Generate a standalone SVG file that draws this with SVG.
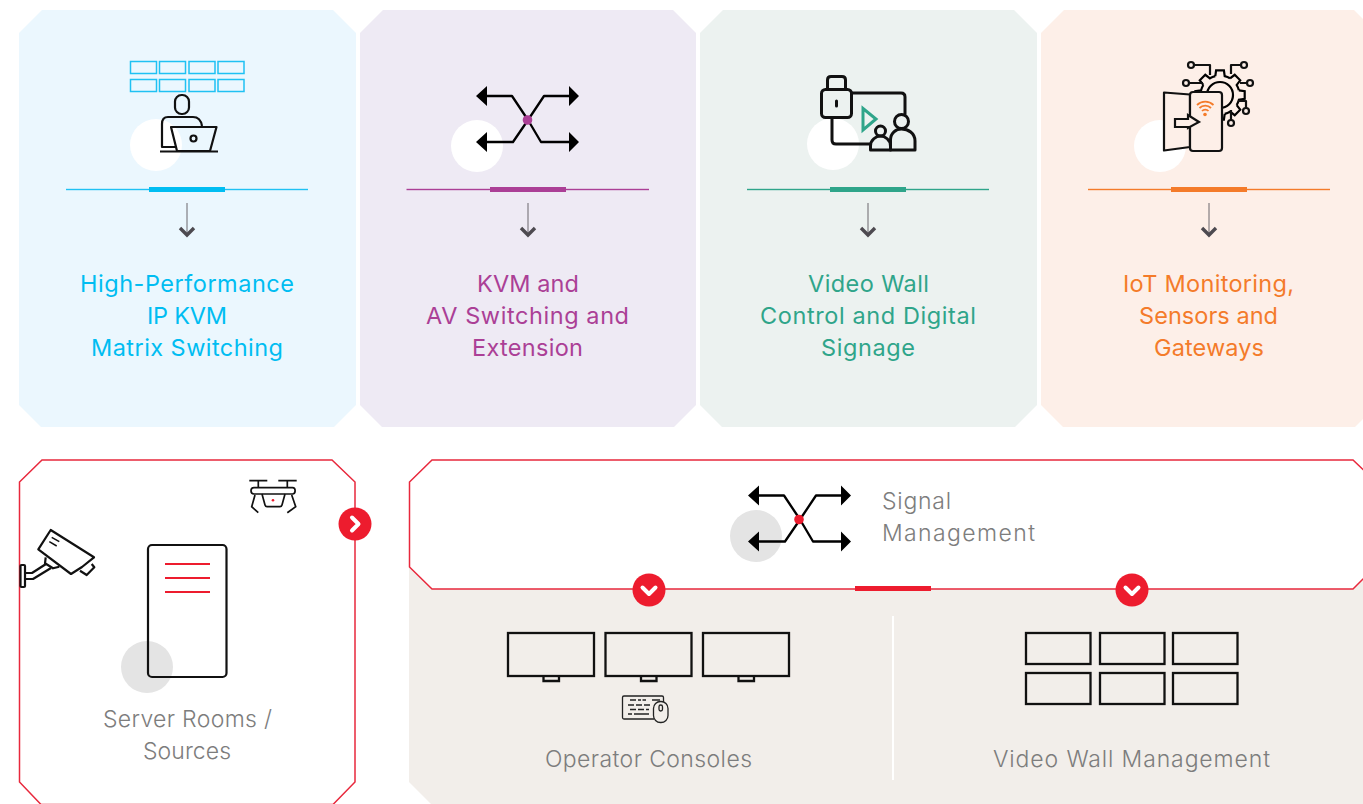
<svg xmlns="http://www.w3.org/2000/svg" width="1363" height="804" viewBox="0 0 1363 804">
<style>
text{font-family:Inter,"Open Sans","Liberation Sans",sans-serif}
.t{font-size:23.5px;font-weight:400}
.g{font-size:23px;font-weight:300;fill:#7d7d7d}
.ink{fill:none;stroke:#000;stroke-width:2.300;stroke-linejoin:round;stroke-linecap:round}
.inkb{fill:none;stroke:#111;stroke-width:2.200;stroke-linejoin:round}
.thick{fill:none;stroke:#111;stroke-width:3;stroke-linejoin:round;stroke-linecap:round}
.dn{fill:none;stroke:#6a676d;stroke-width:1}
.ch{fill:none;stroke:#4d4a50;stroke-width:3.400}
.w{fill:#fff}
.r{fill:#ed1c2e}
.rl{stroke:#e8283c;stroke-width:1.500}
.wc{fill:none;stroke:#fff;stroke-width:4;stroke-linecap:round;stroke-linejoin:round}
</style>
<defs>
<g id="down"><path class="dn" d="M0 203V235"/><path class="ch" d="M-7 228L0 235L7 228"/></g>
<g id="sw">
<path class="ink" d="M11 0H36L52 24M93 0H68L52 24L37 46H11M93 46H65L52 24"/>
<path d="M0 0L11-10V10ZM103 0L93-10V10ZM0 46L11 36V56ZM103 46L93 36V56Z" fill="#000"/>
</g>
<path id="tooth" d="M18.900-4.700L24.700-3.900V3.900L18.900 4.700A19.500 19.500 0 0 1 16.700 10" fill="none" stroke="#000" stroke-width="2.200"/>
</defs>
<g id="panel-ip-kvm">
<path d="M42 10H333L356 33V405L334 427H41L19 405V33Z" fill="#ebf7fe"/>
<circle class="w" cx="156" cy="145" r="26"/>
<g fill="none" stroke="#1fc1f3" stroke-width="1.500">
<rect x="130.500" y="61.500" width="26" height="12"/><rect x="159.500" y="61.500" width="26" height="12"/><rect x="189" y="61.500" width="26" height="12"/><rect x="218" y="61.500" width="26" height="12"/>
<rect x="130.500" y="79.500" width="26" height="12"/><rect x="159.500" y="79.500" width="26" height="12"/><rect x="189" y="79.500" width="26" height="12"/><rect x="218" y="79.500" width="26" height="12"/>
</g>
<rect class="inkb" x="175" y="95" width="14" height="19" rx="6.500"/>
<path class="inkb" d="M202 126C201 120 198 117 193 117H168C164 117 162 120 162 124V147H176"/>
<path class="inkb" d="M171 127H216.500L210 151H177Z"/>
<circle class="inkb" cx="193.500" cy="138.500" r="3"/>
<path class="inkb" d="M160 151.500H218"/>
<rect x="66" y="188.800" width="242" height="1.400" fill="#1fc1f3"/>
<rect x="149" y="187" width="76" height="5" fill="#00bdf2"/>
<use href="#down" x="187"/>
<g fill="#00bdf2" class="t"><text x="80" y="292" textLength="214">High-Performance</text><text x="147" y="324" textLength="80">IP KVM</text><text x="91" y="356" textLength="192">Matrix Switching</text></g>
</g>
<g id="panel-kvm-av">
<path d="M383 10H673L696 33V405L674 427H382L360 405V33Z" fill="#eeeaf4"/>
<circle class="w" cx="477" cy="146" r="26"/>
<use href="#sw" x="476" y="96"/>
<circle cx="527.500" cy="120" r="4.800" fill="#ab3f96"/>
<rect x="406.500" y="188.800" width="242.500" height="1.400" fill="#ab3f96"/>
<rect x="490" y="187" width="76" height="5" fill="#ab3f96"/>
<use href="#down" x="528"/>
<g fill="#ab3f96" class="t"><text x="477" y="292" textLength="102">KVM and</text><text x="426" y="324" textLength="203">AV Switching and</text><text x="472" y="356" textLength="111">Extension</text></g>
</g>
<g id="panel-video-wall">
<path d="M723 10H1014L1037 33V405L1015 427H722L700 405V33Z" fill="#ecf2f0"/>
<circle class="w" cx="833" cy="144" r="26"/>
<path class="thick" d="M852 93H901Q905 93 905 97V114M832 117V140Q832 144 836 144H870"/>
<rect x="821.500" y="89.500" width="30" height="28" rx="4" class="thick" style="fill:#ecf2f0"/>
<path class="thick" d="M827.500 89V80Q827.500 76.500 831 76.500H842Q845.500 76.500 845.500 80V89"/>
<path class="thick" d="M836.500 101V106"/>
<path d="M863 108.500L876 119L863 130Z" fill="none" stroke="#2fa58a" stroke-width="3"/>
<circle class="thick" cx="901.500" cy="121.500" r="7"/>
<path class="thick" d="M890.500 150V140C890.500 133 896 129 901.500 129C908 129 915 133 915 141V150Z"/>
<circle class="thick" cx="880.500" cy="131" r="5"/>
<path class="thick" d="M870.500 150V146C870.500 140 876 136 880.500 136C885 136 890.500 140 890.500 146V150Z"/>
<rect x="747" y="188.800" width="242" height="1.400" fill="#2fa58a"/>
<rect x="830" y="187" width="76" height="5" fill="#2fa58a"/>
<use href="#down" x="868"/>
<g fill="#2fa58a" class="t"><text x="808" y="292" textLength="121">Video Wall</text><text x="760" y="324" textLength="216">Control and Digital</text><text x="821" y="356" textLength="94">Signage</text></g>
</g>
<g id="panel-iot">
<path d="M1064 10H1354L1377 33V405L1355 427H1063L1041 405V33Z" fill="#fdefe8"/>
<circle class="w" cx="1160" cy="146" r="26"/>
<g transform="translate(1220 95)">
<use href="#tooth"/><use href="#tooth" transform="rotate(45)"/><use href="#tooth" transform="rotate(90)"/><use href="#tooth" transform="rotate(135)"/><use href="#tooth" transform="rotate(180)"/><use href="#tooth" transform="rotate(225)"/><use href="#tooth" transform="rotate(270)"/><use href="#tooth" transform="rotate(315)"/>
<circle r="13" fill="none" stroke="#000" stroke-width="2.200"/>
</g>
<g class="inkb"><circle cx="1191" cy="65" r="3"/><circle cx="1244" cy="65" r="3"/><circle cx="1186" cy="83" r="3"/><circle cx="1250" cy="83" r="3"/><circle cx="1246" cy="111" r="3"/><circle cx="1231" cy="123" r="3"/>
<path d="M1194 65H1210V75M1241 65H1231V74M1189 83H1203M1247 83H1240M1246 108V101H1238M1231 120V110"/></g>
<path d="M1164 92.500L1190 94.500V147L1164 150.500Z" fill="#fdefe8" stroke="#111" stroke-width="2.200" stroke-linejoin="round"/>
<rect x="1190" y="92" width="32" height="59" rx="3" fill="#fdefe8" stroke="#111" stroke-width="2.200"/>
<path d="M1175 119H1188V115L1199 122L1188 128V127H1175Z" fill="#fdefe8" stroke="#111" stroke-width="2.200" stroke-linejoin="miter"/>
<g fill="none" stroke="#f47b2a" stroke-width="1.800"><path d="M1197 105A12 12 0 0 1 1213.500 105"/><path d="M1199.500 108A8 8 0 0 1 1211 108"/><path d="M1202 111A4.500 4.500 0 0 1 1208.500 111"/></g>
<circle cx="1205" cy="114.500" r="1.800" fill="#f47b2a"/>
<rect x="1088" y="188.800" width="242" height="1.400" fill="#f47b2a"/>
<rect x="1171" y="187" width="76" height="5" fill="#f47b2a"/>
<use href="#down" x="1209"/>
<g fill="#f47b2a" class="t"><text x="1123" y="292" textLength="171">IoT Monitoring,</text><text x="1139" y="324" textLength="139">Sensors and</text><text x="1154" y="356" textLength="110">Gateways</text></g>
</g>
<g id="node-server-rooms">
<path class="rl" d="M42 460H332L355 482V782L333 804.500H41L19.500 782V482Z" fill="#fff"/>
<circle cx="147" cy="667" r="26" fill="#e4e4e4"/>
<rect x="148" y="545" width="78.500" height="132" rx="4" fill="none" stroke="#111" stroke-width="2.200"/>
<path d="M165 564H210M165 578H210M165 592H210" stroke="#ed1c2e" stroke-width="1.800"/>
<g class="inkb">
<rect x="20.500" y="565" width="4.500" height="22" rx="1"/>
<path d="M25 573H32L46 564M25 579H33L51 568"/>
<path d="M45.700 557.300L45 563.300L53 568.300L59.300 566.700"/>
<path d="M50.700 530L94 557.300L82 567L71 574L38.300 549.300Z"/>
<path d="M91.700 564L94.300 567.300L86.700 575L80 570.700"/>
<path d="M51.700 537.300L59.300 541.700M49.300 541.700L56.700 546" stroke-width="1.500"/>
</g>
<g fill="none" stroke="#111" stroke-width="1.700">
<path d="M249.300 480.700H267.300M278.300 480.700H296.700M258.300 480.700V488M287.300 480.700V488"/>
<path d="M254 487.700H292.500C296 487.700 296 494 292.500 494H254C250 494 250 487.700 254 487.700Z"/>
<path d="M262 494L265 505Q265.500 506.700 267 506.700H280Q281.500 506.700 282 505L285 494"/>
<path d="M255 495L251.700 506.700L258.300 512.700M291.700 495L295.700 506.700L287.300 512.700"/>
</g>
<circle cx="273" cy="500.300" r="1.300" fill="#ed1c2e"/>
<text class="g" x="103" y="727" textLength="169">Server Rooms /</text>
<text class="g" x="143" y="759" textLength="88">Sources</text>
</g>
<g id="node-consoles-background">
<path d="M409 560H1377V804H431L409 782Z" fill="#f2eeea"/>
<path d="M893 616V780" stroke="#fff" stroke-width="2"/>
</g>
<g id="node-signal-management">
<path class="rl" d="M432 460H1353L1376 482V566L1353 589H432L409.500 567V482Z" fill="#fff"/>
<circle cx="756" cy="536" r="26" fill="#e4e4e4"/>
<use href="#sw" x="748" y="495.500"/>
<circle cx="799" cy="519.500" r="4.800" fill="#ed1c2e"/>
<rect x="855" y="586" width="76" height="5" fill="#ed1c2e"/>
<text class="g" x="882" y="509" textLength="69">Signal</text>
<text class="g" x="882" y="541" textLength="153">Management</text>
</g>
<g id="node-operator-consoles">
<g fill="none" stroke="#111" stroke-width="2.300">
<rect x="508" y="633" width="86" height="43"/><rect x="605.500" y="633" width="86" height="43"/><rect x="703" y="633" width="86" height="43"/>
<path d="M543.500 676V681H559V676M641 676V681H656.500V676M738.500 676V681H754V676"/>
</g>
<g fill="none" stroke="#222" stroke-width="1.300">
<path d="M654 719H624Q622.500 719 622.500 717.500V697.500Q622.500 696 624 696H662Q663.500 696 663.500 697.500V702"/>
<path d="M630 700H636M638 700H641M642.500 700H646M652 700H660M628 705H634M636 705H642M644 705H650M630 709.500H636M638 709.500H644M646 709.500H649M628 714H632M634 714H649"/>
<rect x="653.500" y="701.500" width="14.500" height="21" rx="7" fill="#f2eeea"/>
<rect x="659" y="705" width="3.500" height="6" rx="1.700" fill="#f2eeea"/>
</g>
<text class="g" x="545" y="767" textLength="207">Operator Consoles</text>
</g>
<g id="node-video-wall-management">
<g fill="none" stroke="#111" stroke-width="2.300">
<rect x="1026" y="633" width="64.500" height="31"/><rect x="1100" y="633" width="64.500" height="31"/><rect x="1173" y="633" width="64.500" height="31"/>
<rect x="1026" y="673" width="64.500" height="31"/><rect x="1100" y="673" width="64.500" height="31"/><rect x="1173" y="673" width="64.500" height="31"/>
</g>
<text class="g" x="993" y="767" textLength="277">Video Wall Management</text>
</g>
<g id="connectors">
<circle class="r" cx="355" cy="524" r="16.500"/><path class="wc" d="M352 517.500L358.500 524L352 530.500"/>
<circle class="r" cx="649" cy="590" r="16.500"/><path class="wc" d="M642.500 587.500L649 594L655.500 587.500"/>
<circle class="r" cx="1132" cy="590" r="16.500"/><path class="wc" d="M1125.500 587.500L1132 594L1138.500 587.500"/>
</g>
</svg>
